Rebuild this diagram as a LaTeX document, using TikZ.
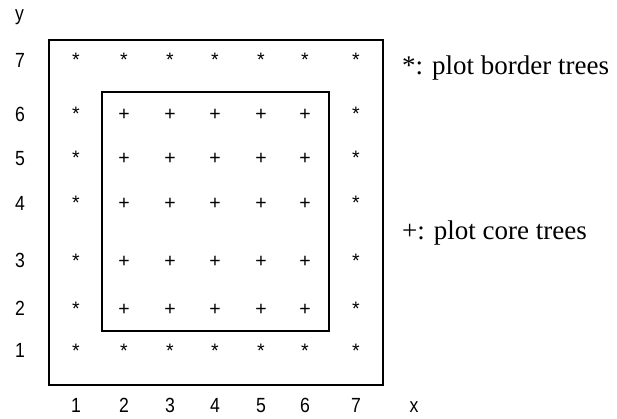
\documentclass[tikz,border=0pt]{standalone}
\usepackage{fontspec}
\newfontfamily\axisfont[FakeStretch=0.86]{Liberation Sans}
\newfontfamily\markfont{Liberation Sans}
\newfontfamily\legendfont{Liberation Serif}
\usetikzlibrary{positioning}

\tikzset{
  plotline/.style={line width=2pt},
  axislabel/.style={inner sep=0pt, anchor=base, font=\axisfont\fontsize{20.5}{20.5}\selectfont},
  treemark/.style={inner sep=0pt, anchor=base, font=\markfont\fontsize{19.5}{19.5}\selectfont},
  legendtext/.style={inner sep=0pt, anchor=base west, font=\legendfont\fontsize{27}{27}\selectfont}
}

\begin{document}
\begin{tikzpicture}[x=1pt, y=-1pt]
        \useasboundingbox (0,0) rectangle (617,419);

        % plot borders
        \draw[plotline] (49,40) coordinate (OA) rectangle (383,385) coordinate (OB);
        \draw[plotline] (102,92) coordinate (IA) rectangle (329,331) coordinate (IB);

        % axis labels
        \foreach \i/\xx in {1/76,2/124,3/170,4/215,5/261,6/305,7/356}
          \node[axislabel] (xlab-\i) at (\xx,412.5) {\i};
        \foreach \j/\yy in {1/350,2/308,3/260,4/203,5/158,6/114,7/60}
          \node[axislabel] (ylab-\j) at (20,\yy+7.5) {\j};
        \node[axislabel] (xname) at (414,412.5) {x};
        \node[axislabel] (yname) at (19.5,20.5) {y};

        % border trees
        \foreach \i/\xx in {1/76,2/124,3/170,4/215,5/261,6/305,7/356} {
          \node[treemark] (border-\i-1) at (\xx,357) {*};
          \node[treemark] (border-\i-7) at (\xx,67) {*};
        }
        \foreach \j/\yy in {2/308,3/260,4/203,5/158,6/114} {
          \node[treemark] (border-1-\j) at (76,\yy+7) {*};
          \node[treemark] (border-7-\j) at (356,\yy+7) {*};
        }

        % core trees
        \foreach \i/\xx in {2/124,3/170,4/215,5/261,6/305}
          \foreach \j/\yy in {2/308,3/260,4/203,5/158,6/114}
            \node[treemark] (core-\i-\j) at (\xx,\yy+7) {+};

        % legend
        \node[legendtext] (bordertext) at (402,75) {*: plot border trees};
        \node[legendtext] (coretext) at (402,240) {+: plot core trees};
\end{tikzpicture}
\end{document}
